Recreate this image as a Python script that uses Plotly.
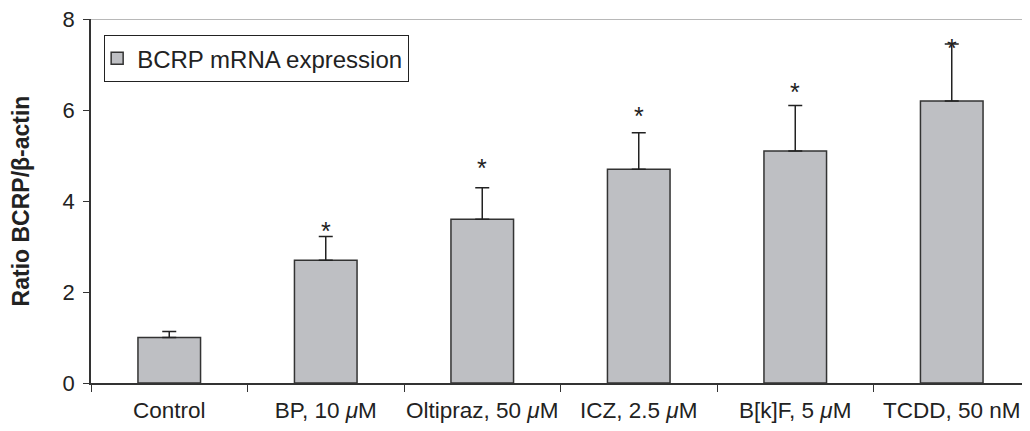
import plotly.graph_objects as go

categories = ["Control", "BP, 10 <i>μ</i>M", "Oltipraz, 50 <i>μ</i>M", "ICZ, 2.5 <i>μ</i>M",
              "B[k]F, 5 <i>μ</i>M", "TCDD, 50 nM"]
values = [1.0, 2.7, 3.6, 4.7, 5.1, 6.2]
errors = [0.13, 0.52, 0.69, 0.80, 1.0, 1.25]
significant = [False, True, True, True, True, True]
star_y = [None, 3.47, 4.86, 6.0, 6.53, 7.5]
y_ticks = [0, 2, 4, 6, 8]

FONT = "Liberation Sans, Arial, sans-serif"

fig = go.Figure()
fig.add_trace(go.Bar(
    x=categories, y=values, name="BCRP mRNA expression",
    width=0.4,
    marker=dict(color="#bebfc3", line=dict(color="#333333", width=1.5)),
    error_y=dict(type="data", array=errors, arrayminus=[0]*len(errors), symmetric=False,
                 color="#222222", thickness=1.5, width=7),
))

for c, s, sy in zip(categories, significant, star_y):
    if s:
        fig.add_annotation(x=c, y=sy, text="*", showarrow=False, xref="x", yref="y",
                           font=dict(family=FONT, size=25, color="#222222"),
                           yanchor="middle", yshift=-6)

fig.add_shape(type="line", xref="paper", yref="y", x0=0, x1=1, y0=8, y1=8,
              line=dict(color="#a0a0a0", width=1.5))

# page body has an 8px default margin, so the figure is offset by 8px
fig.update_layout(
    width=1022, height=423,
    margin=dict(l=83, r=0, t=11, b=48),
    plot_bgcolor="white", paper_bgcolor="white",
    font=dict(family=FONT, color="#222222"),
    showlegend=True,
    legend=dict(x=0.0138, y=0.956, xanchor="left", yanchor="top",
                bordercolor="#222222", borderwidth=1.2, bgcolor="white",
                font=dict(family=FONT, size=24, color="#222222"),
                itemwidth=30, tracegroupgap=0, indentation=-8),
    xaxis=dict(showline=True, linecolor="#333333", linewidth=1.5, ticks="outside",
               tickson="boundaries", ticklen=7, tickcolor="#333333", tickwidth=1.2,
               tickfont=dict(family=FONT, size=22.5, color="#222222"), showgrid=False,
               tickangle=0, ticklabeloverflow="allow",
               ticklabelstandoff=6, automargin=False),
    yaxis=dict(range=[0, 8], tickvals=y_ticks, showline=True, linecolor="#333333", linewidth=1.5,
               ticks="outside", ticklen=6, tickcolor="#333333", tickwidth=1.2,
               tickfont=dict(family=FONT, size=22, color="#222222"), showgrid=False, zeroline=False,
               automargin=False, ticklabelstandoff=4, ticklabeloverflow="allow",
               title=dict(text="<b>Ratio BCRP/β-actin</b>", font=dict(family=FONT, size=23, color="#222222"),
                          standoff=29)),
)

fig.write_html("out.html")
